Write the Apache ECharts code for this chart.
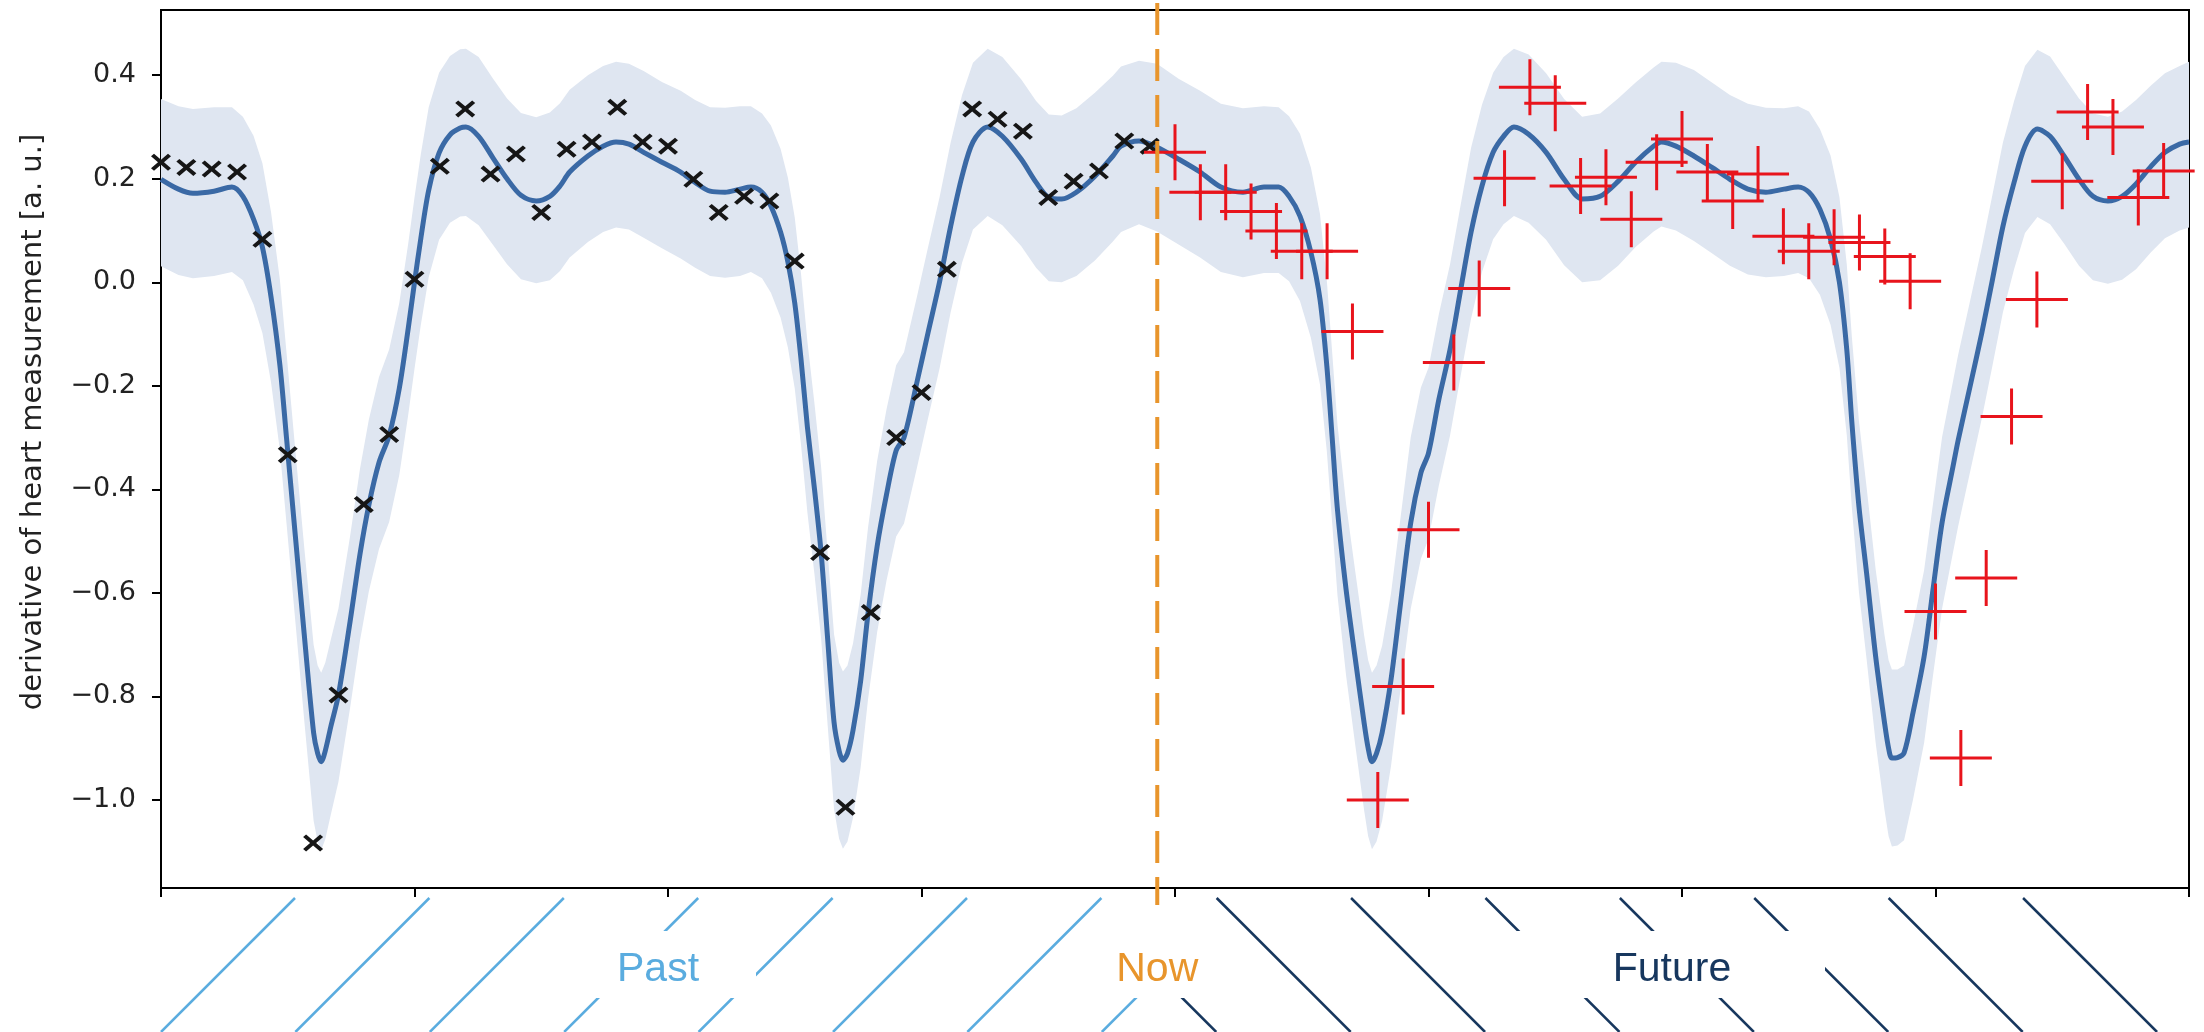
<!DOCTYPE html>
<html>
<head>
<meta charset="utf-8">
<script src="https://cdn.jsdelivr.net/npm/echarts@6/dist/echarts.min.js"></script>
<style>
  html, body { margin: 0; padding: 0; background: #ffffff; }
  #chart { width: 2204px; height: 1032px; }
</style>
</head>
<body>
<div id="chart"></div>
<script>
// Posterior fit of the heart signal derivative: rows are [x, mean, upper, lower]
const fitCycle1 = [
  [0.000, 0.199, 0.354, 0.031], [0.069, 0.180, 0.340, 0.014], [0.126, 0.172, 0.335, 0.008],
  [0.209, 0.176, 0.338, 0.012], [0.280, 0.184, 0.338, 0.020], [0.323, 0.166, 0.320, 0.004],
  [0.365, 0.122, 0.283, -0.043], [0.400, 0.068, 0.230, -0.098], [0.434, -0.028, 0.136, -0.193],
  [0.469, -0.160, 0.005, -0.325], [0.495, -0.300, -0.135, -0.465], [0.530, -0.490, -0.325, -0.655],
  [0.565, -0.680, -0.512, -0.846], [0.602, -0.870, -0.700, -1.040], [0.618, -0.910, -0.740, -1.080],
  [0.632, -0.926, -0.754, -1.097], [0.648, -0.905, -0.735, -1.076], [0.670, -0.858, -0.690, -1.028],
  [0.700, -0.797, -0.630, -0.965], [0.746, -0.655, -0.490, -0.822], [0.785, -0.525, -0.360, -0.692],
  [0.820, -0.430, -0.265, -0.597], [0.860, -0.348, -0.183, -0.515], [0.900, -0.296, -0.130, -0.463],
  [0.940, -0.205, -0.040, -0.372], [0.975, -0.090, 0.074, -0.257], [1.000, 0.000, 0.164, -0.167],
  [1.025, 0.085, 0.248, -0.082], [1.056, 0.178, 0.338, 0.010], [1.097, 0.250, 0.405, 0.082],
  [1.140, 0.285, 0.437, 0.115], [1.180, 0.298, 0.450, 0.127], [1.203, 0.300, 0.451, 0.128],
  [1.253, 0.282, 0.435, 0.110], [1.310, 0.240, 0.393, 0.072], [1.365, 0.200, 0.355, 0.035],
  [1.420, 0.168, 0.327, 0.006], [1.480, 0.157, 0.319, -0.002], [1.534, 0.166, 0.328, 0.004],
  [1.574, 0.186, 0.346, 0.022], [1.612, 0.213, 0.372, 0.048], [1.684, 0.244, 0.400, 0.078],
  [1.744, 0.263, 0.418, 0.097], [1.795, 0.271, 0.426, 0.106], [1.846, 0.267, 0.422, 0.102],
  [1.904, 0.251, 0.408, 0.086], [1.976, 0.232, 0.387, 0.066], [2.050, 0.213, 0.370, 0.046],
  [2.107, 0.193, 0.352, 0.028], [2.166, 0.176, 0.338, 0.012], [2.225, 0.174, 0.337, 0.009],
  [2.284, 0.180, 0.340, 0.012], [2.327, 0.184, 0.340, 0.020], [2.371, 0.174, 0.326, 0.008],
  [2.406, 0.147, 0.303, -0.020], [2.444, 0.097, 0.258, -0.068], [2.473, 0.039, 0.202, -0.126]
];
const fitCycle2 = [
  [2.500, -0.040, 0.125, -0.205], [2.525, -0.150, 0.015, -0.315], [2.550, -0.280, -0.115, -0.445],
  [2.578, -0.400, -0.235, -0.565], [2.604, -0.522, -0.357, -0.688], [2.630, -0.690, -0.523, -0.857],
  [2.655, -0.850, -0.680, -1.018], [2.675, -0.905, -0.735, -1.075], [2.690, -0.923, -0.752, -1.094],
  [2.708, -0.910, -0.740, -1.080], [2.730, -0.865, -0.697, -1.034], [2.760, -0.770, -0.603, -0.937],
  [2.789, -0.640, -0.474, -0.806], [2.825, -0.510, -0.345, -0.676], [2.862, -0.410, -0.245, -0.576],
  [2.900, -0.325, -0.160, -0.491], [2.931, -0.300, -0.135, -0.466], [2.982, -0.193, -0.028, -0.358],
  [3.026, -0.097, 0.068, -0.262], [3.071, 0.000, 0.164, -0.167], [3.115, 0.108, 0.270, -0.058],
  [3.160, 0.205, 0.362, 0.038], [3.203, 0.271, 0.424, 0.102], [3.261, 0.300, 0.451, 0.128],
  [3.319, 0.282, 0.435, 0.110], [3.393, 0.238, 0.392, 0.070], [3.452, 0.193, 0.350, 0.028],
  [3.502, 0.164, 0.324, 0.002], [3.553, 0.161, 0.322, 0.000], [3.611, 0.174, 0.336, 0.012],
  [3.684, 0.205, 0.366, 0.042], [3.755, 0.244, 0.399, 0.079], [3.787, 0.263, 0.417, 0.097],
  [3.858, 0.273, 0.428, 0.112], [3.929, 0.261, 0.422, 0.098], [4.014, 0.238, 0.393, 0.073],
  [4.099, 0.213, 0.370, 0.048], [4.181, 0.184, 0.345, 0.020], [4.268, 0.174, 0.336, 0.010],
  [4.351, 0.184, 0.340, 0.018], [4.409, 0.184, 0.338, 0.018], [4.450, 0.166, 0.321, 0.002],
  [4.493, 0.128, 0.287, -0.036], [4.536, 0.058, 0.222, -0.107]
];
const fitCycle3 = [
  [4.572, -0.033, 0.132, -0.198], [4.599, -0.162, 0.003, -0.327], [4.620, -0.300, -0.135, -0.465],
  [4.641, -0.440, -0.275, -0.605], [4.675, -0.594, -0.428, -0.760], [4.710, -0.723, -0.555, -0.890],
  [4.746, -0.851, -0.682, -1.020], [4.762, -0.900, -0.730, -1.070], [4.777, -0.926, -0.754, -1.095],
  [4.795, -0.910, -0.740, -1.080], [4.817, -0.870, -0.702, -1.040], [4.852, -0.768, -0.601, -0.935],
  [4.888, -0.627, -0.461, -0.793], [4.930, -0.464, -0.299, -0.630], [4.970, -0.368, -0.203, -0.534],
  [5.000, -0.330, -0.165, -0.496], [5.041, -0.226, -0.061, -0.392], [5.085, -0.130, 0.035, -0.296],
  [5.127, -0.014, 0.150, -0.180], [5.168, 0.097, 0.260, -0.070], [5.211, 0.186, 0.343, 0.020],
  [5.255, 0.251, 0.405, 0.083], [5.296, 0.282, 0.435, 0.112], [5.337, 0.300, 0.451, 0.128],
  [5.395, 0.286, 0.440, 0.115], [5.464, 0.251, 0.404, 0.082], [5.535, 0.199, 0.354, 0.033],
  [5.606, 0.161, 0.320, 0.000], [5.677, 0.166, 0.326, 0.004], [5.748, 0.195, 0.355, 0.032],
  [5.817, 0.232, 0.386, 0.068], [5.888, 0.263, 0.415, 0.098], [5.919, 0.271, 0.426, 0.108],
  [5.976, 0.263, 0.424, 0.100], [6.047, 0.244, 0.410, 0.080], [6.118, 0.222, 0.386, 0.056],
  [6.189, 0.199, 0.362, 0.032], [6.260, 0.180, 0.345, 0.015], [6.331, 0.174, 0.337, 0.010],
  [6.402, 0.180, 0.336, 0.012], [6.458, 0.184, 0.340, 0.018], [6.501, 0.174, 0.330, 0.008],
  [6.544, 0.141, 0.296, -0.024], [6.586, 0.083, 0.245, -0.082], [6.621, 0.000, 0.165, -0.165]
];
const fitCycle4 = [
  [6.650, -0.130, 0.035, -0.295], [6.670, -0.270, -0.105, -0.435], [6.698, -0.433, -0.268, -0.598],
  [6.728, -0.561, -0.395, -0.727], [6.764, -0.723, -0.555, -0.890], [6.799, -0.851, -0.682, -1.020],
  [6.815, -0.900, -0.730, -1.070], [6.828, -0.919, -0.748, -1.090], [6.850, -0.918, -0.748, -1.088],
  [6.876, -0.909, -0.740, -1.078], [6.911, -0.832, -0.664, -1.000], [6.955, -0.723, -0.556, -0.890],
  [6.990, -0.594, -0.428, -0.760], [7.026, -0.464, -0.299, -0.630], [7.069, -0.356, -0.191, -0.522],
  [7.089, -0.306, -0.141, -0.472], [7.140, -0.193, -0.028, -0.358], [7.183, -0.097, 0.068, -0.262],
  [7.225, 0.006, 0.170, -0.160], [7.266, 0.108, 0.270, -0.058], [7.310, 0.193, 0.350, 0.025],
  [7.353, 0.263, 0.418, 0.095], [7.402, 0.296, 0.449, 0.126], [7.452, 0.282, 0.436, 0.112],
  [7.507, 0.244, 0.397, 0.075], [7.566, 0.199, 0.355, 0.032], [7.621, 0.166, 0.326, 0.004],
  [7.680, 0.157, 0.320, -0.003], [7.736, 0.166, 0.330, 0.005], [7.791, 0.190, 0.352, 0.025],
  [7.850, 0.224, 0.380, 0.058], [7.905, 0.251, 0.404, 0.085], [7.963, 0.267, 0.418, 0.100],
  [8.000, 0.271, 0.426, 0.106]
];

// Observed samples before "now"
const pastX = [0.0, 0.1, 0.2, 0.3, 0.4, 0.5, 0.6, 0.7, 0.8, 0.9,
               1.0, 1.1, 1.2, 1.3, 1.4, 1.5, 1.6, 1.7, 1.8, 1.9,
               2.0, 2.1, 2.2, 2.3, 2.4, 2.5, 2.6, 2.7, 2.8, 2.9,
               3.0, 3.1, 3.2, 3.3, 3.4, 3.5, 3.6, 3.7, 3.8, 3.9];
const pastY = [0.232, 0.222, 0.219, 0.213, 0.083, -0.333, -1.083, -0.797, -0.429, -0.294,
               0.006, 0.224, 0.335, 0.209, 0.248, 0.135, 0.257, 0.271, 0.338, 0.271,
               0.263, 0.199, 0.135, 0.166, 0.157, 0.041, -0.522, -1.014, -0.638, -0.300,
               -0.213, 0.025, 0.335, 0.315, 0.292, 0.164, 0.195, 0.215, 0.273, 0.263];

// Held-out samples after "now"
const futureX = [4.0, 4.1, 4.2, 4.3, 4.4, 4.5, 4.6, 4.7, 4.8, 4.9,
                 5.0, 5.1, 5.2, 5.3, 5.4, 5.5, 5.6, 5.7, 5.8, 5.9,
                 6.0, 6.1, 6.2, 6.3, 6.4, 6.5, 6.6, 6.7, 6.8, 6.9,
                 7.0, 7.1, 7.2, 7.3, 7.4, 7.5, 7.6, 7.7, 7.8, 7.9];
const futureY = [0.251, 0.174, 0.174, 0.137, 0.099, 0.060, 0.060, -0.095, -1.000, -0.781,
                 -0.478, -0.155, -0.012, 0.201, 0.377, 0.346, 0.186, 0.203, 0.122, 0.232,
                 0.277, 0.213, 0.157, 0.209, 0.089, 0.060, 0.087, 0.077, 0.050, 0.002,
                 -0.636, -0.919, -0.571, -0.259, -0.033, 0.195, 0.329, 0.300, 0.164, 0.215];

const nowX = 3.93;
const xMin = 0, xMax = 8;
const yMin = -1.17, yMax = 0.526;
const yTicks = [-1.0, -0.8, -0.6, -0.4, -0.2, 0.0, 0.2, 0.4];
const yTitle = 'derivative of heart measurement [a. u.]';
const phaseLabels = ['Past', 'Now', 'Future'];

const fitRows = fitCycle1.concat(fitCycle2, fitCycle3, fitCycle4);

const COL_FIT = '#3A69A5';
const COL_BAND = '#DFE6F1';
const COL_PAST_PT = '#161616';
const COL_FUT_PT = '#E8141C';
const COL_NOW = '#E8952C';
const COL_PAST = '#5AACDF';
const COL_FUTURE = '#17375E';

// x-shaped and plus-shaped marker outlines
const CROSS_PATH = 'path://M15,0L50,35L85,0L100,15L65,50L100,85L85,100L50,65L15,100L0,85L35,50L0,15Z';
const PLUS_PATH = 'path://M0,26.5L62,26.5L62,29.5L0,29.5Z M29.5,0L32.5,0L32.5,56L29.5,56Z';

const chart = echarts.init(document.getElementById('chart'), null, { renderer: 'canvas' });

const option = {
  animation: false,
  backgroundColor: '#ffffff',
  grid: {
    left: 161, right: 15, top: 10, bottom: 144,
    show: true, borderColor: '#000000', borderWidth: 2, backgroundColor: 'transparent'
  },
  xAxis: {
    type: 'value', min: xMin, max: xMax, interval: 1,
    axisLine: { show: true, onZero: false, lineStyle: { color: '#000000', width: 2 } },
    axisTick: { show: true, length: 9, lineStyle: { color: '#000000', width: 2 } },
    axisLabel: { show: false },
    splitLine: { show: false }
  },
  yAxis: {
    type: 'value', min: yMin, max: yMax,
    axisLine: { show: true, onZero: false, lineStyle: { color: '#000000', width: 2 } },
    axisTick: { show: true, length: 9, customValues: yTicks, lineStyle: { color: '#000000', width: 2 } },
    axisLabel: {
      customValues: yTicks,
      margin: 25,
      fontFamily: 'DejaVu Sans', fontSize: 27, color: '#222222',
      formatter: function (v) {
        const s = Math.abs(v).toFixed(1);
        return v < -1e-9 ? '\u2212' + s : s;
      }
    },
    splitLine: { show: false }
  },
  series: [
    {
      // confidence band between upper and lower bounds
      type: 'custom',
      z: 1,
      silent: true,
      data: [[fitRows[0][0], fitRows[0][1]]],
      renderItem: function (params, api) {
        const pts = [];
        for (let i = 0; i < fitRows.length; i++) pts.push(api.coord([fitRows[i][0], fitRows[i][2]]));
        for (let i = fitRows.length - 1; i >= 0; i--) pts.push(api.coord([fitRows[i][0], fitRows[i][3]]));
        return { type: 'polygon', shape: { points: pts }, style: { fill: COL_BAND } };
      }
    },
    {
      type: 'line',
      z: 3,
      silent: true,
      data: fitRows.map(r => [r[0], r[1]]),
      showSymbol: false,
      smooth: 0.3,
      lineStyle: { color: COL_FIT, width: 5, join: 'round' }
    },
    {
      type: 'scatter',
      z: 5,
      silent: true,
      data: pastX.map((x, i) => [x, pastY[i]]),
      symbol: CROSS_PATH,
      symbolSize: [20, 17],
      itemStyle: { color: COL_PAST_PT, opacity: 1 }
    },
    {
      type: 'scatter',
      z: 5,
      silent: true,
      data: futureX.map((x, i) => [x, futureY[i]]),
      symbol: PLUS_PATH,
      symbolSize: [62, 56],
      itemStyle: { color: COL_FUT_PT, opacity: 1 }
    },
    {
      // "now" marker, running a little past the frame at both ends
      type: 'custom',
      z: 6,
      silent: true,
      clip: false,
      data: [[nowX, yMax]],
      renderItem: function (params, api) {
        const top = api.coord([nowX, yMax]);
        const bot = api.coord([nowX, yMin]);
        return {
          type: 'line',
          shape: { x1: top[0], y1: top[1] - 7, x2: bot[0], y2: bot[1] + 17 },
          style: { stroke: COL_NOW, lineWidth: 4, lineDash: [32, 14] }
        };
      }
    }
  ]
};

chart.setOption(option);

// Timeline strip under the axis: hatched past/future bands with labels
(function () {
  const leftPx = chart.convertToPixel({ xAxisIndex: 0 }, xMin);
  const rightPx = chart.convertToPixel({ xAxisIndex: 0 }, xMax);
  const nowPx = chart.convertToPixel({ xAxisIndex: 0 }, nowX);
  const axisPx = chart.convertToPixel({ yAxisIndex: 0 }, yMin);

  const top = axisPx + 10;
  const bottom = 1032;
  const run = bottom - top;
  const step = 134.4;
  const els = [];

  // past: rising strokes, clipped at "now"
  for (let k = 0; ; k++) {
    const xb = leftPx + k * step;
    if (xb >= nowPx) break;
    let x2 = xb + run, y2 = top;
    if (x2 > nowPx) { x2 = nowPx; y2 = bottom - (nowPx - xb); }
    els.push({ type: 'line', shape: { x1: xb, y1: bottom, x2: x2, y2: y2 },
               style: { stroke: COL_PAST, lineWidth: 2.5 }, z: 1 });
  }
  // future: falling strokes, starting at "now"
  const firstTop = nowPx - 75;
  for (let k = 0; ; k++) {
    const xt = firstTop + k * step;
    if (xt + run > rightPx) break;
    let x1 = xt, y1 = top;
    if (x1 < nowPx) { x1 = nowPx; y1 = top + (nowPx - xt); }
    els.push({ type: 'line', shape: { x1: x1, y1: y1, x2: xt + run, y2: bottom },
               style: { stroke: COL_FUTURE, lineWidth: 2.5 }, z: 1 });
  }

  const boxes = [
    { text: phaseLabels[0], color: COL_PAST, x0: 565, x1: 756, cx: 658 },
    { text: phaseLabels[1], color: COL_NOW, x0: nowPx - 80, x1: nowPx + 80, cx: nowPx },
    { text: phaseLabels[2], color: COL_FUTURE, x0: 1490, x1: 1825, cx: 1672 }
  ];
  boxes.forEach(b => {
    els.push({ type: 'rect', shape: { x: b.x0, y: 931, width: b.x1 - b.x0, height: 67 },
               style: { fill: '#ffffff' }, z: 2 });
    els.push({ type: 'text', x: b.cx, y: 970, z: 3,
               style: { text: b.text, fill: b.color, font: '41px "Liberation Sans", Arial, sans-serif',
                        align: 'center', verticalAlign: 'middle' } });
  });

  // rotated y-axis title
  els.push({ type: 'text', x: 33, y: 422, rotation: Math.PI / 2, z: 3,
             style: { text: yTitle, fill: '#222222', font: '29px "DejaVu Sans", sans-serif',
                      align: 'center', verticalAlign: 'middle' } });

  chart.setOption({ graphic: els });
})();
</script>
</body>
</html>
